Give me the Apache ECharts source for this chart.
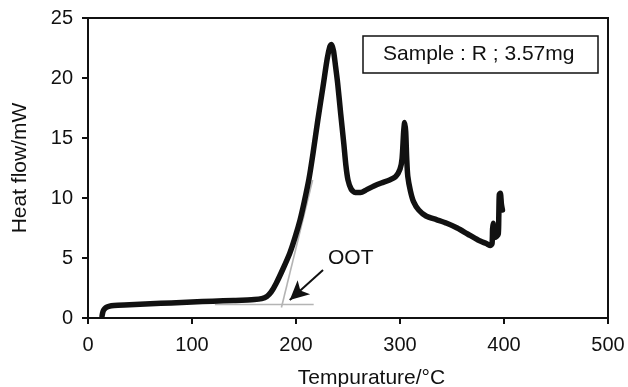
<!DOCTYPE html>
<html>
<head>
<meta charset="utf-8">
<script src="https://cdn.jsdelivr.net/npm/echarts@6/dist/echarts.min.js"></script>
<style>
  html, body { margin: 0; padding: 0; background: #fff; }
  #chart { width: 628px; height: 387px; }
</style>
</head>
<body>
<div id="chart"></div>
<script>
// DSC 曲线 [温度, 热流]
const heatFlow = [
  [13.5, 0.15], [14, 0.4], [15, 0.65], [17, 0.85], [20, 0.97], [25, 1.05],
  [40, 1.1], [60, 1.18], [80, 1.26], [100, 1.33], [120, 1.4], [140, 1.46],
  [160, 1.54], [167, 1.62], [172, 1.8], [176, 2.15], [181, 2.9], [187, 4.0],
  [194, 5.4], [199, 6.7], [204, 8.2], [208, 9.7], [212.5, 11.6], [216.5, 13.8],
  [221, 16.5], [226, 19.3], [230, 21.6], [232.5, 22.6], [234, 22.8], [236, 22.3],
  [238, 21.0], [240, 19.6], [243, 17.0], [246, 14.5], [248, 12.7], [250, 11.5],
  [253, 10.75], [257, 10.45], [262, 10.45], [268, 10.7], [275, 11.0], [282, 11.25],
  [290, 11.5], [296, 11.8], [300, 12.4], [302, 13.3], [303.5, 15.5], [304.5, 16.3],
  [305.5, 15.5], [306.5, 13.2], [307.5, 11.8], [310, 10.6], [313, 9.7], [318, 9.0],
  [325, 8.5], [335, 8.2], [345, 7.9], [355, 7.5], [365, 7.0], [375, 6.5],
  [383, 6.2], [387, 6.05], [388.5, 6.2], [389, 7.4], [389.5, 7.9], [390, 7.2],
  [391, 6.7], [393, 6.8], [394.5, 7.0], [395, 8.5], [395.5, 10.3], [396.5, 10.4],
  [397.5, 9.5], [398.5, 9.0]
];
// 外推起始温度的切线和基线
const baseLine = [[122, 1.12], [217, 1.12]];
const tangentLine = [[186, 0.88], [216, 11.5]];
const arrowFrom = [226, 4.0];
const arrowTo = [194, 1.5];
const ootLabelAt = [230.8, 5.0];

const xTicks = { min: 0, max: 500, interval: 100 };
const yTicks = { min: 0, max: 25, interval: 5 };
const sampleText = 'Sample : R ; 3.57mg';

const chart = echarts.init(document.getElementById('chart'), null, { renderer: 'canvas' });

const axisCommon = {
  axisLine: { show: true, lineStyle: { color: '#111', width: 2 } },
  axisTick: { show: true, inside: false, length: 6, lineStyle: { color: '#111', width: 2 } },
  splitLine: { show: false },
  axisLabel: { color: '#111', fontSize: 20, fontFamily: 'Liberation Sans, Arial, sans-serif' },
  nameTextStyle: { color: '#111', fontSize: 21, fontFamily: 'Liberation Sans, Arial, sans-serif' }
};

const option = {
  animation: false,
  title: {
    text: sampleText,
    left: 363,
    top: 36,
    padding: [8, 24, 8, 20],
    borderColor: '#111',
    borderWidth: 1.5,
    textStyle: { color: '#111', fontSize: 21, fontWeight: 'normal', fontFamily: 'Liberation Sans, Arial, sans-serif' }
  },
  grid: {
    left: 88, right: 20, top: 18, bottom: 69,
    outerBoundsMode: 'none',
    containLabel: false,
    show: true, borderColor: '#111', borderWidth: 2, backgroundColor: 'transparent'
  },
  xAxis: Object.assign({}, axisCommon, {
    type: 'value',
    min: xTicks.min, max: xTicks.max, interval: xTicks.interval,
    name: 'Tempurature/°C',
    nameLocation: 'middle',
    nameGap: 50,
    nameTextStyle: Object.assign({}, axisCommon.nameTextStyle, { padding: [0, 0, 0, 47] }),
    axisLabel: Object.assign({}, axisCommon.axisLabel, { margin: 17 })
  }),
  yAxis: Object.assign({}, axisCommon, {
    type: 'value',
    min: yTicks.min, max: yTicks.max, interval: yTicks.interval,
    name: 'Heat flow/mW',
    nameLocation: 'middle',
    nameGap: 57,
    axisLabel: Object.assign({}, axisCommon.axisLabel, { margin: 15 })
  }),
  series: [
    {
      name: 'baseline',
      type: 'line',
      data: baseLine,
      symbol: 'none',
      z: 1,
      lineStyle: { color: '#b4b4b4', width: 1.6 }
    },
    {
      name: 'tangent',
      type: 'line',
      data: tangentLine,
      symbol: 'none',
      z: 1,
      lineStyle: { color: '#b4b4b4', width: 1.6 },
      markLine: {
        silent: true,
        symbol: ['none', 'arrow'],
        symbolSize: [14, 19],
        lineStyle: { color: '#111', width: 2, type: 'solid' },
        label: { show: false },
        data: [[{ coord: arrowFrom }, { coord: arrowTo }]]
      },
      markPoint: {
        silent: true,
        symbol: 'circle',
        symbolSize: 0,
        label: {
          show: true, position: 'right', distance: 0, formatter: 'OOT',
          color: '#111', fontSize: 21, fontFamily: 'Liberation Sans, Arial, sans-serif'
        },
        data: [{ coord: ootLabelAt }]
      }
    },
    {
      name: 'heat flow',
      type: 'line',
      data: heatFlow,
      symbol: 'none',
      smooth: 0.25,
      z: 3,
      lineStyle: { color: '#111', width: 5.5, cap: 'round', join: 'round' }
    }
  ]
};

chart.setOption(option);
</script>
</body>
</html>
